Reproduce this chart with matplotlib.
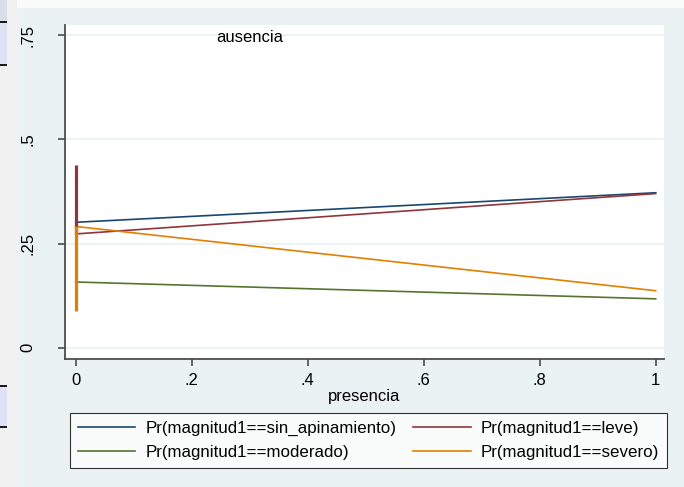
import matplotlib
matplotlib.use("Agg")
import matplotlib.pyplot as plt
from matplotlib.patches import Rectangle

plt.rcParams['font.family'] = ['Liberation Sans', 'DejaVu Sans']

# predicted probabilities at presencia = 0 and 1
x_vals = [0, 1]
series_names = ["Pr(magnitud1==sin_apinamiento)", "Pr(magnitud1==leve)",
                "Pr(magnitud1==moderado)", "Pr(magnitud1==severo)"]
series_vals = [
    [0.301, 0.372],   # sin_apinamiento
    [0.273, 0.370],   # leve
    [0.1575, 0.117],  # moderado
    [0.291, 0.1365],  # severo
]
# vertical spikes drawn at presencia = 0 (leve, severo)
spike_x = 0
spike_leve = [0.439, 0.273]
spike_severo = [0.291, 0.0877]

y_ticks = [0, 0.25, 0.5, 0.75]
y_ticklabels = ["0", ".25", ".5", ".75"]
x_ticks = [0, 0.2, 0.4, 0.6, 0.8, 1]
x_ticklabels = ["0", ".2", ".4", ".6", ".8", "1"]

colors = ["#1a476f", "#90353b", "#55752f", "#e37e00"]
bg = "#eaf2f3"

W, H = 684, 487
fig = plt.figure(figsize=(W / 100, H / 100), dpi=100)
fig.patch.set_facecolor("#fbfbfb")


def fig_rect(x0, y0, x1, y1, color, z=-2):
    # rectangle given in pixel coordinates (top-left origin)
    fig.patches.append(Rectangle((x0 / W, 1 - y1 / H), (x1 - x0) / W,
                                 (y1 - y0) / H, transform=fig.transFigure,
                                 facecolor=color, edgecolor="none", zorder=z))


# outer graph region and the cropped strip at the far left
fig_rect(17, 8, W, H, bg)
fig_rect(0, 0, 17, H, "#f1f1f1")
fig_rect(0, 0, 7, 22, "#d9dee8")
for top, bot in [(22, 65), (386, 427)]:
    fig_rect(0, top, 7, bot, "#dde3f4")
    for yy in (top, bot):
        fig_rect(0, yy - 1, 7, yy + 1, "#1b1b1b", z=-1)

ax = fig.add_axes([65 / W, 1 - 359 / H, (664 - 65) / W, (359 - 25) / H])
ax.set_zorder(2)
ax.set_facecolor("white")

for yt in y_ticks:
    ax.axhline(yt, color=bg, lw=1.3, zorder=1)

lines = []
for vals, name, c in zip(series_vals, series_names, colors):
    ln, = ax.plot(x_vals, vals, color=c, lw=1.2, label=name, zorder=3)
    lines.append(ln)
ax.plot([spike_x, spike_x], spike_leve, color=colors[1], lw=2.3,
        solid_capstyle="butt", zorder=3)
ax.plot([spike_x, spike_x], spike_severo, color=colors[3], lw=2.3,
        solid_capstyle="butt", zorder=4)

ax.set_xlim(-0.0185, 1.0143)
ax.set_ylim(-0.0276, 0.7752)

for s in ("top", "right"):
    ax.spines[s].set_visible(False)
for s in ("left", "bottom"):
    ax.spines[s].set_color("#4d4d4d")
    ax.spines[s].set_linewidth(1.3)

ax.set_yticks(y_ticks)
ax.set_yticklabels(y_ticklabels, rotation=90, va="center")
ax.set_xticks(x_ticks)
ax.set_xticklabels(x_ticklabels)
ax.tick_params(axis="y", length=5, width=1.2, color="#4d4d4d", pad=16,
               labelsize=12)
ax.tick_params(axis="x", length=5, width=1.2, color="#4d4d4d", pad=5,
               labelsize=12)
ax.set_xlabel("presencia", fontsize=12, labelpad=1)

ax.text(0.30, 0.744, "ausencia", fontsize=12, ha="center", va="center")

# legend is filled row by row in the reference
order = [0, 2, 1, 3]
leg = fig.legend(handles=[lines[i] for i in order], ncol=2, loc="upper left",
                 bbox_to_anchor=(70 / W, 1 - 413 / H), fontsize=12.2,
                 frameon=True, fancybox=False, edgecolor="black",
                 handlelength=3.4, handletextpad=0.6, columnspacing=1.0,
                 labelspacing=0.55, borderpad=0.45, borderaxespad=0)
leg.set_zorder(3)
leg.get_frame().set_linewidth(0.8)
leg.get_frame().set_facecolor("white")

fig.savefig("out.png", dpi=100, facecolor=fig.get_facecolor())
